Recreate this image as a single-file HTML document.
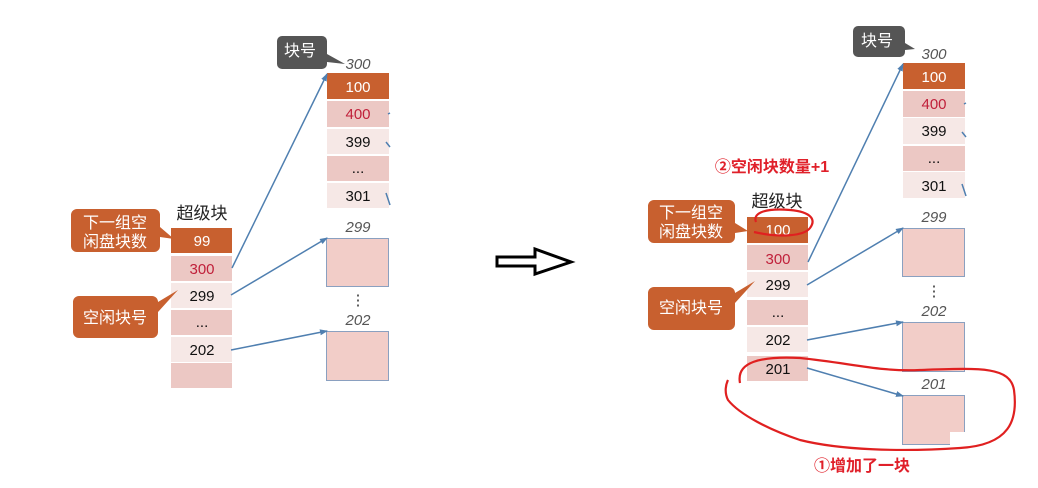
<!DOCTYPE html>
<html><head><meta charset="utf-8"><style>
html,body{margin:0;padding:0;background:#fff}
svg{display:block}
text{font-family:"Liberation Sans","Noto Sans CJK SC",sans-serif}
</style></head><body>
<svg width="1038" height="488" viewBox="0 0 1038 488" xmlns="http://www.w3.org/2000/svg">
<defs>
<marker id="ah" markerWidth="8" markerHeight="8" refX="7" refY="4" orient="auto" markerUnits="userSpaceOnUse">
<path d="M0,1 L8,4 L0,7 z" fill="#4f7fb0"/></marker>
</defs>
<g font-size="15" text-anchor="middle">
<!-- LEFT superblock -->
<text x="202" y="219" font-size="17" fill="#222">超级块</text>
<rect x="171" y="228" width="61" height="25" fill="#c8602f"/><text x="202" y="246" fill="#fff">99</text>
<rect x="171" y="256" width="61" height="25" fill="#ecc8c4"/><text x="202" y="274" fill="#c0203a">300</text>
<rect x="171" y="283" width="61" height="25" fill="#f6e8e6"/><text x="202" y="301" fill="#111">299</text>
<rect x="171" y="310" width="61" height="25" fill="#ecc8c4"/><text x="202" y="327" fill="#111">...</text>
<rect x="171" y="337" width="61" height="25" fill="#f6e8e6"/><text x="202" y="355" fill="#111">202</text>
<rect x="171" y="363" width="61" height="25" fill="#ecc8c4"/>
<!-- LEFT block column -->
<text x="358" y="69" font-style="italic" fill="#555">300</text>
<rect x="327" y="73" width="62" height="26" fill="#c8602f"/><text x="358" y="92" fill="#fff">100</text>
<rect x="327" y="101" width="62" height="26" fill="#ecc8c4"/><text x="358" y="119" fill="#c0203a">400</text>
<rect x="327" y="129" width="62" height="25" fill="#f6e8e6"/><text x="358" y="147" fill="#111">399</text>
<rect x="327" y="156" width="62" height="25" fill="#ecc8c4"/><text x="358" y="173" fill="#111">...</text>
<rect x="327" y="183" width="62" height="25" fill="#f6e8e6"/><text x="358" y="201" fill="#111">301</text>
<g stroke="#4f7fb0" stroke-width="1.5"><line x1="388" y1="114" x2="390" y2="113"/><line x1="386" y1="142" x2="390" y2="147"/><line x1="386" y1="193" x2="390" y2="205"/></g>
<text x="358" y="232" font-style="italic" fill="#555">299</text>
<rect x="326.5" y="238.5" width="62" height="48" fill="#f2cdc8" stroke="#8aa0c0"/>
<text x="358" y="305" fill="#333">⋮</text>
<text x="358" y="325" font-style="italic" fill="#555">202</text>
<rect x="326.5" y="331.5" width="62" height="49" fill="#f2cdc8" stroke="#8aa0c0"/>
<g stroke="#4f7fb0" stroke-width="1.5" fill="none" marker-end="url(#ah)">
<line x1="232" y1="268" x2="327" y2="74"/>
<line x1="231" y1="295" x2="327" y2="238"/>
<line x1="231" y1="350" x2="327" y2="331"/>
</g>
<!-- callouts left -->
<path d="M282,36 h40 a5,5 0 0 1 5,5 v13 l18,10 l-18,-2 v2 a5,5 0 0 1 -5,5 h-40 a5,5 0 0 1 -5,-5 v-23 a5,5 0 0 1 5,-5z" fill="#555"/>
<text x="300" y="56" fill="#fff" font-size="16">块号</text>
<path d="M77,209 h77 a6,6 0 0 1 6,6 v12 l14,12 l-14,-2 v9 a6,6 0 0 1 -6,6 h-77 a6,6 0 0 1 -6,-6 v-31 a6,6 0 0 1 6,-6z" fill="#c8602f"/>
<text x="115" y="228" fill="#fff" font-size="16">下一组空</text><text x="115" y="247" fill="#fff" font-size="16">闲盘块数</text>
<path d="M79,296 h73 a6,6 0 0 1 6,6 v0 l20,-12 l-20,22 v20 a6,6 0 0 1 -6,6 h-73 a6,6 0 0 1 -6,-6 v-30 a6,6 0 0 1 6,-6z" fill="#c8602f"/>
<text x="115" y="323" fill="#fff" font-size="16">空闲块号</text>
<!-- middle arrow -->
<path d="M497,257 h38 v-8 l36,13 l-36,12 v-8 h-38 z" fill="#fff" stroke="#000" stroke-width="3"/>
<!-- RIGHT superblock -->
<text x="777" y="207" font-size="17" fill="#222">超级块</text>
<rect x="747" y="217" width="61" height="26" fill="#c8602f"/><text x="778" y="235" fill="#fff">100</text>
<rect x="747" y="245" width="61" height="25" fill="#ecc8c4"/><text x="778" y="264" fill="#c0203a">300</text>
<rect x="747" y="272" width="61" height="25" fill="#f6e8e6"/><text x="778" y="290" fill="#111">299</text>
<rect x="747" y="300" width="61" height="25" fill="#ecc8c4"/><text x="778" y="317" fill="#111">...</text>
<rect x="747" y="327" width="61" height="25" fill="#f6e8e6"/><text x="778" y="345" fill="#111">202</text>
<rect x="747" y="356" width="61" height="25" fill="#ecc8c4"/><text x="778" y="374" fill="#111">201</text>
<!-- RIGHT block column -->
<text x="934" y="59" font-style="italic" fill="#555">300</text>
<rect x="903" y="63" width="62" height="26" fill="#c8602f"/><text x="934" y="82" fill="#fff">100</text>
<rect x="903" y="91" width="62" height="26" fill="#ecc8c4"/><text x="934" y="109" fill="#c0203a">400</text>
<rect x="903" y="118" width="62" height="26" fill="#f6e8e6"/><text x="934" y="136" fill="#111">399</text>
<rect x="903" y="146" width="62" height="25" fill="#ecc8c4"/><text x="934" y="163" fill="#111">...</text>
<rect x="903" y="172" width="62" height="26" fill="#f6e8e6"/><text x="934" y="191" fill="#111">301</text>
<g stroke="#4f7fb0" stroke-width="1.5"><line x1="964" y1="104" x2="966" y2="103"/><line x1="962" y1="132" x2="966" y2="137"/><line x1="962" y1="184" x2="966" y2="196"/></g>
<text x="934" y="222" font-style="italic" fill="#555">299</text>
<rect x="902.5" y="228.5" width="62" height="48" fill="#f2cdc8" stroke="#8aa0c0"/>
<text x="934" y="296" fill="#333">⋮</text>
<text x="934" y="316" font-style="italic" fill="#555">202</text>
<rect x="902.5" y="322.5" width="62" height="49" fill="#f2cdc8" stroke="#8aa0c0"/>
<text x="934" y="389" font-style="italic" fill="#555">201</text>
<rect x="902.5" y="395.5" width="62" height="49" fill="#f2cdc8" stroke="#8aa0c0"/>
<rect x="950" y="432" width="20" height="16" fill="#fff"/>
<g stroke="#4f7fb0" stroke-width="1.5" fill="none" marker-end="url(#ah)">
<line x1="808" y1="262" x2="903" y2="64"/>
<line x1="807" y1="285" x2="903" y2="228"/>
<line x1="807" y1="340" x2="903" y2="322"/>
<line x1="807" y1="368" x2="903" y2="396"/>
</g>
<!-- callouts right -->
<path d="M858,26 h42 a5,5 0 0 1 5,5 v12 l10,6 l-10,1 v2 a5,5 0 0 1 -5,5 h-42 a5,5 0 0 1 -5,-5 v-21 a5,5 0 0 1 5,-5z" fill="#555"/>
<text x="877" y="46" fill="#fff" font-size="16">块号</text>
<path d="M654,200 h75 a6,6 0 0 1 6,6 v17 l13,8 l-13,2 v4 a6,6 0 0 1 -6,6 h-75 a6,6 0 0 1 -6,-6 v-31 a6,6 0 0 1 6,-6z" fill="#c8602f"/>
<text x="691" y="218" fill="#fff" font-size="16">下一组空</text><text x="691" y="237" fill="#fff" font-size="16">闲盘块数</text>
<path d="M654,287 h75 a6,6 0 0 1 6,6 l20,-12 l-20,22 v21 a6,6 0 0 1 -6,6 h-75 a6,6 0 0 1 -6,-6 v-31 a6,6 0 0 1 6,-6z" fill="#c8602f"/>
<text x="691" y="313" fill="#fff" font-size="16">空闲块号</text>
<!-- red annotations -->
<text x="772" y="172" fill="#e0202a" font-size="16" font-weight="bold">②空闲块数量+1</text>
<text x="862" y="471" fill="#e0202a" font-size="16" font-weight="bold">①增加了一块</text>
<g stroke="#e02020" stroke-width="2.2" fill="none">
<path d="M756,222 C752,212 768,208 790,210 C812,212 816,220 810,228 C804,236 780,238 754,232"/>
<path d="M740,383 C736,362 760,356 800,358 C850,363 880,372 920,370 C980,368 1010,366 1014,390 C1018,420 1010,445 960,448 C900,452 840,450 800,440 C770,430 740,415 728,400 C724,392 726,384 728,380"/>
</g>
</g>
</svg>
</body></html>
